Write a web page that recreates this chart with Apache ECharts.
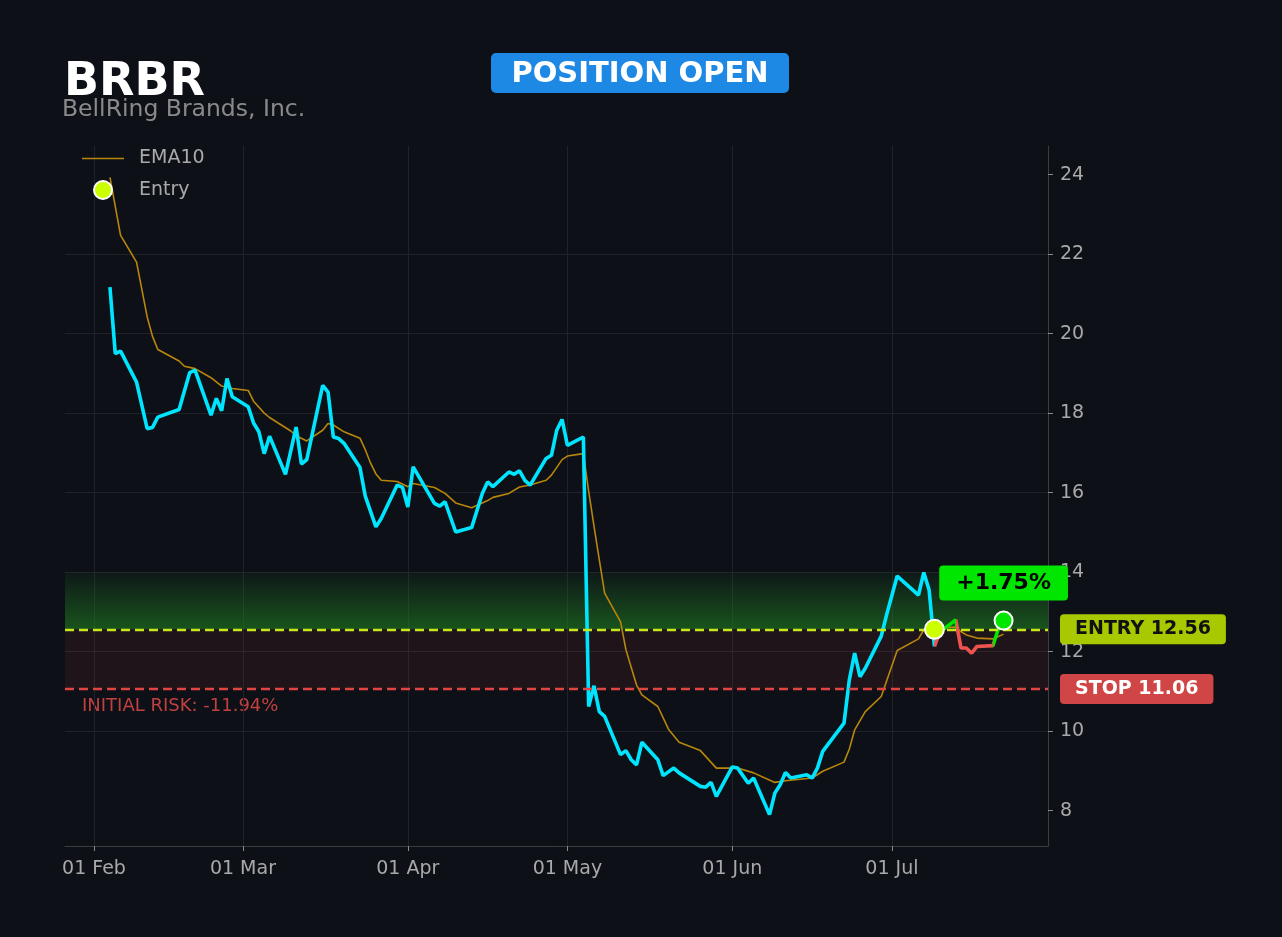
<!DOCTYPE html>
<html>
<head>
<meta charset="utf-8">
<title>BRBR</title>
<script src="https://cdn.jsdelivr.net/npm/echarts@6/dist/echarts.min.js"></script>
<style>
  html, body { margin: 0; padding: 0; background: #0d1117; }
  #chart { width: 1282px; height: 937px; }
</style>
</head>
<body>
<div id="chart"></div>
<script>
// data (dates are MM-DD in 2025)
var YEAR = 2025;
var ticker = 'BRBR';
var company = 'BellRing Brands, Inc.';
var status = 'POSITION OPEN';

var priceDates = ['02-04','02-05','02-06','02-09','02-11','02-12','02-13','02-17','02-19','02-20',
  '02-23','02-24','02-25','02-26','02-27','03-02','03-03','03-04','03-05','03-06',
  '03-09','03-11','03-12','03-13','03-16','03-17','03-18','03-19','03-20','03-23',
  '03-24','03-26','03-27','03-30','03-31','04-01','04-02','04-06','04-07','04-08',
  '04-10','04-13','04-15','04-16','04-17','04-20','04-21','04-22','04-23','04-24',
  '04-27','04-28','04-29','04-30','05-01','05-04','05-05','05-06','05-07','05-08',
  '05-11','05-12','05-13','05-14','05-15','05-18','05-19','05-21','05-22','05-26',
  '05-27','05-28','05-29','06-01','06-02','06-04','06-05','06-08','06-09','06-10',
  '06-11','06-12','06-15','06-16','06-17','06-18','06-22','06-23','06-24','06-25',
  '06-26','06-29','06-30','07-02','07-06','07-07','07-08','07-09'];
var priceValues = [21.17,19.50,19.56,18.78,17.61,17.64,17.90,18.09,19.02,19.08,
  17.95,18.37,18.06,18.87,18.41,18.16,17.75,17.53,16.98,17.42,
  16.46,17.65,16.72,16.83,18.70,18.53,17.40,17.36,17.24,16.63,
  15.91,15.14,15.35,16.19,16.13,15.64,16.65,15.73,15.66,15.77,
  15.01,15.12,15.98,16.27,16.15,16.52,16.46,16.55,16.31,16.19,
  16.86,16.94,17.57,17.84,17.19,17.40,10.62,11.14,10.49,10.37,
  9.41,9.51,9.28,9.15,9.72,9.28,8.88,9.07,8.95,8.61,
  8.59,8.71,8.36,9.10,9.07,8.69,8.82,7.90,8.44,8.65,
  8.96,8.82,8.90,8.82,9.07,9.49,10.20,11.29,11.96,11.37,
  11.58,12.39,12.92,13.90,13.42,13.99,13.55,12.13];

// price after entry, coloured per segment against the entry price
var openDates = ['07-09','07-10','07-13','07-14','07-15','07-16','07-17','07-20','07-21','07-22'];
var openValues = [12.13,12.49,12.80,12.09,12.09,11.96,12.13,12.15,12.57,12.78];

var emaDates = ['02-04','02-06','02-09','02-11','02-12','02-13','02-17','02-18','02-20','02-23',
  '02-25','02-27','03-02','03-03','03-05','03-06','03-10','03-11','03-13','03-16',
  '03-17','03-18','03-20','03-23','03-24','03-25','03-26','03-27','03-30','04-01',
  '04-02','04-06','04-08','04-10','04-13','04-16','04-17','04-20','04-22','04-24',
  '04-27','04-28','04-30','05-01','05-04','05-05','05-06','05-07','05-08','05-11',
  '05-12','05-13','05-14','05-15','05-18','05-20','05-22','05-26','05-29','06-02',
  '06-05','06-09','06-11','06-16','06-18','06-22','06-23','06-24','06-26','06-29',
  '07-02','07-06','07-07','07-08','07-10','07-13','07-14','07-15','07-17','07-20','07-22'];
var emaValues = [23.93,22.47,21.80,20.42,19.93,19.60,19.31,19.18,19.12,18.89,
  18.68,18.62,18.57,18.30,18.00,17.89,17.55,17.43,17.30,17.57,
  17.74,17.70,17.53,17.37,17.08,16.74,16.47,16.31,16.28,16.15,
  16.23,16.13,15.98,15.74,15.62,15.80,15.88,15.98,16.14,16.19,
  16.31,16.44,16.83,16.92,16.98,16.03,15.16,14.31,13.47,12.75,
  12.05,11.60,11.16,10.91,10.62,10.05,9.72,9.51,9.07,9.07,
  8.95,8.71,8.75,8.82,8.99,9.22,9.55,10.03,10.49,10.87,
  12.03,12.32,12.55,12.62,12.60,12.62,12.50,12.42,12.34,12.32,12.44];

var entryDate = '07-09';
var entryPrice = 12.56;
var stopPrice = 11.06;
var zoneTop = 14.0;

var monthTicks = ['02-01','03-01','04-01','05-01','06-01','07-01'];
var yTicks = [8, 10, 12, 14, 16, 18, 20, 22, 24];

function t(md) { return Date.parse(YEAR + '-' + md + 'T00:00:00Z'); }
function pairs(dates, values) {
  return dates.map(function (d, i) { return [t(d), values[i]]; });
}

var DAY = 86400000;
var lastDate = openDates[openDates.length - 1];
var lastPrice = openValues[openValues.length - 1];
var gainPct = (lastPrice / entryPrice - 1) * 100;
var riskPct = (stopPrice / entryPrice - 1) * 100;

var GREEN = '#00e600';
var RED = '#ef5350';
var EMA_COLOR = '#b8860b';
var ENTRY_COLOR = '#ccff00';

// colour of each open segment is set by where it ends
var pieces = [];
for (var i = 1; i < openDates.length; i++) {
  var p = { gte: t(openDates[i - 1]), color: openValues[i] >= entryPrice ? GREEN : RED };
  if (i === openDates.length - 1) p.lte = t(openDates[i]); else p.lt = t(openDates[i]);
  pieces.push(p);
}

var myChart = echarts.init(document.getElementById('chart'));

var option = {
  backgroundColor: '#0d1117',
  useUTC: true,
  animation: false,
  textStyle: { fontFamily: 'DejaVu Sans' },
  grid: { left: 65, right: 234, top: 146, bottom: 91 },
  legend: {
    orient: 'vertical',
    left: 82,
    top: 149,
    padding: 0,
    itemWidth: 42,
    itemHeight: 18,
    itemGap: 12,
    textStyle: { color: '#a9a9a9', fontSize: 19, padding: [0, 0, 0, 10] },
    data: [
      { name: 'EMA10', icon: 'path://M0,0H42V1.6H0Z', itemStyle: { color: EMA_COLOR } },
      { name: 'Entry', icon: 'circle',
        itemStyle: { color: ENTRY_COLOR, borderColor: '#ffffff', borderWidth: 2, opacity: 1 } }
    ]
  },
  visualMap: {
    type: 'piecewise',
    show: false,
    seriesIndex: 2,
    dimension: 0,
    pieces: pieces
  },
  xAxis: {
    type: 'time',
    min: t('02-01') - 5.45 * DAY,
    max: t('02-01') + 179.35 * DAY,
    splitNumber: 7,
    axisLine: { show: true, lineStyle: { color: '#3a3d42', width: 1 } },
    axisTick: {
      show: true, length: 5, lineStyle: { color: '#8a8a8a' },
      customValues: monthTicks.map(t)
    },
    axisLabel: {
      color: '#a9a9a9', fontSize: 19, margin: 14,
      formatter: '{dd} {MMM}',
      customValues: monthTicks.map(t)
    },
    splitLine: {
      show: true, showMinLine: false, showMaxLine: false,
      lineStyle: { color: '#1f2329', width: 1 }
    }
  },
  yAxis: {
    type: 'value',
    position: 'right',
    min: 7.11,
    max: 24.72,
    splitNumber: 9,
    axisLine: { show: true, lineStyle: { color: '#3a3d42', width: 1 } },
    axisTick: { show: true, length: 5, lineStyle: { color: '#8a8a8a' }, customValues: yTicks },
    axisLabel: { color: '#a9a9a9', fontSize: 19, margin: 12, customValues: yTicks },
    splitLine: {
      show: true, showMinLine: false, showMaxLine: false,
      lineStyle: { color: '#1f2329', width: 1 }
    }
  },
  series: [
    {
      name: 'EMA10',
      type: 'line',
      data: pairs(emaDates, emaValues),
      symbol: 'none',
      z: 2,
      lineStyle: { color: EMA_COLOR, width: 1.6 },
      itemStyle: { color: EMA_COLOR },
      markArea: {
        silent: true,
        data: [
          [{
            yAxis: entryPrice,
            itemStyle: {
              color: new echarts.graphic.LinearGradient(0, 0, 0, 1, [
                { offset: 0, color: 'rgba(34,139,34,0.06)' },
                { offset: 1, color: 'rgba(34,139,34,0.55)' }
              ])
            }
          }, { yAxis: zoneTop }],
          [{ yAxis: stopPrice, itemStyle: { color: 'rgba(190,45,60,0.11)' } }, { yAxis: entryPrice }]
        ]
      }
    },
    {
      name: 'Price',
      type: 'line',
      data: pairs(priceDates, priceValues),
      symbol: 'none',
      z: 3,
      lineStyle: { color: '#00e5ff', width: 3.6 },
      markLine: {
        silent: true,
        symbol: ['none', 'none'],
        data: [
          {
            yAxis: entryPrice,
            lineStyle: { color: '#c8e619', type: [9, 5], width: 2.4 },
            label: {
              show: true, position: 'end', distance: 12,
              formatter: 'ENTRY ' + entryPrice.toFixed(2),
              backgroundColor: '#a8c800', color: '#111111',
              fontWeight: 'bold', fontSize: 19, lineHeight: 20,
              padding: [5, 15], borderRadius: 4
            }
          },
          {
            yAxis: stopPrice,
            lineStyle: { color: '#e04545', type: [9, 5], width: 2.4 },
            label: {
              show: true, position: 'end', distance: 12,
              formatter: 'STOP ' + stopPrice.toFixed(2),
              backgroundColor: '#d04545', color: '#ffffff',
              fontWeight: 'bold', fontSize: 19, lineHeight: 20,
              padding: [5, 15], borderRadius: 4
            }
          }
        ]
      }
    },
    {
      name: 'Open',
      type: 'line',
      data: pairs(openDates, openValues),
      symbol: 'none',
      z: 4,
      lineStyle: { width: 3.6 }
    },
    {
      name: 'Entry',
      type: 'scatter',
      data: [[t(entryDate), entryPrice]],
      symbol: 'circle',
      symbolSize: 19,
      z: 10,
      itemStyle: { color: ENTRY_COLOR, borderColor: '#ffffff', borderWidth: 2, opacity: 1 }
    },
    {
      name: 'Last',
      type: 'scatter',
      data: [[t(lastDate), lastPrice]],
      symbol: 'circle',
      symbolSize: 18,
      z: 10,
      itemStyle: { color: GREEN, borderColor: '#ffffff', borderWidth: 2, opacity: 1 },
      label: {
        show: true, position: 'top', distance: 10,
        formatter: (gainPct >= 0 ? '+' : '') + gainPct.toFixed(2) + '%',
        backgroundColor: GREEN, color: '#000000',
        fontWeight: 'bold', fontSize: 22, lineHeight: 23,
        padding: [6, 17], borderRadius: 4
      }
    }
  ],
  graphic: [
    {
      type: 'text', left: 64, top: 60,
      style: { text: ticker, fill: '#ffffff', font: 'bold 46px "DejaVu Sans"' }
    },
    {
      type: 'text', left: 62, top: 98,
      style: { text: company, fill: '#8a8a8a', font: '23.5px "DejaVu Sans"' }
    },
    {
      type: 'rect', left: 491, top: 53,
      shape: { width: 298, height: 40, r: 5 },
      style: { fill: '#1e88e5' }
    },
    {
      type: 'text', x: 640, y: 74,
      style: {
        text: status, fill: '#ffffff', font: 'bold 29px "DejaVu Sans"',
        align: 'center', verticalAlign: 'middle'
      }
    },
    {
      type: 'text', left: 82, top: 697,
      style: {
        text: 'INITIAL RISK: ' + riskPct.toFixed(2) + '%',
        fill: '#c0403f', font: '18px "DejaVu Sans"'
      }
    }
  ]
};

myChart.setOption(option);
</script>
</body>
</html>
